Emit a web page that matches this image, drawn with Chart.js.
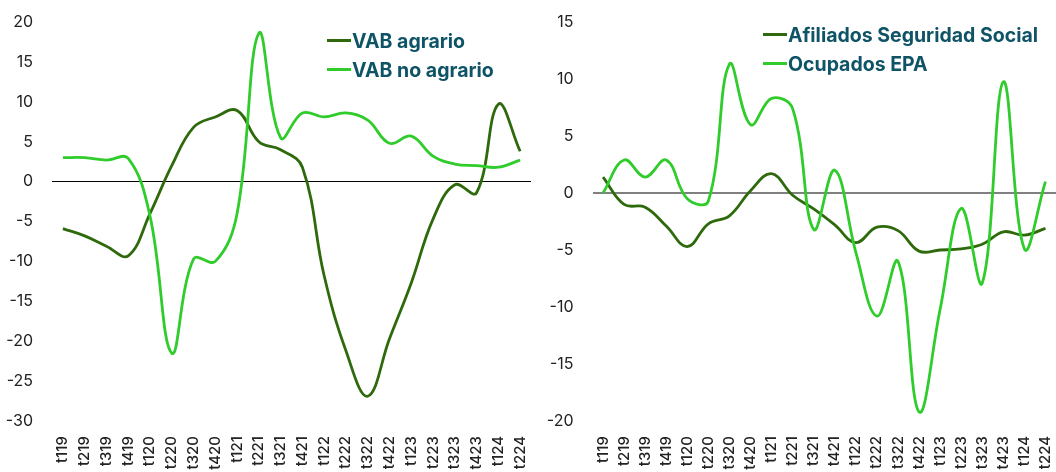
<!DOCTYPE html>
<html>
<head>
<meta charset="utf-8">
<script src="https://cdn.jsdelivr.net/npm/chart.js@4.4.0/dist/chart.umd.min.js"></script>
<style>
  body { margin: 0; background: #fff; width: 1056px; height: 472px; overflow: hidden; font-family: Inter, sans-serif; }
  canvas { position: absolute; top: 0; }
  #leftChart { left: 0; }
  #rightChart { left: 530px; }
  .legend { position: absolute; font-weight: 700; font-size: 19.5px; color: #0e5466; }
  .legend .item { display: flex; align-items: center; height: 29px; white-space: nowrap; }
  .legend .swatch { display: inline-block; width: 24px; height: 3px; margin-right: 1px; }
</style>
</head>
<body>
<canvas id="leftChart" width="531" height="472"></canvas>
<canvas id="rightChart" width="526" height="472"></canvas>
<div class="legend" id="leftLegend" style="left:327px; top:26px;"></div>
<div class="legend" id="rightLegend" style="left:763px; top:20px;"></div>
<script>
const quarters = ["t119", "t219", "t319", "t419", "t120", "t220", "t320", "t420", "t121", "t221", "t321",
  "t421", "t122", "t222", "t322", "t422", "t123", "t223", "t323", "t423", "t124", "t224"];

// left panel
const vabAgrario = [-5.9, -6.8, -8.1, -9.3, -4.0, 2.0, 6.8, 8.1, 8.9, 5.0, 4.0, 1.8,
  -11.8, -21.2, -26.9, -19.7, -12.7, -4.7, -0.4, -1.4, 9.7, 3.8];
const vabNoAgrario = [3.0, 3.0, 2.7, 2.9, -4.3, -21.5, -9.7, -10.0, -4.0, 18.6, 5.5, 8.6,
  8.1, 8.6, 7.7, 4.8, 5.7, 3.2, 2.2, 2.0, 1.8, 2.7];

// right panel
const afiliados = [1.4, -1.0, -1.25, -2.9, -4.7, -2.7, -2.0, 0.2, 1.7, -0.2, -1.4, -2.8,
  -4.35, -3.0, -3.3, -5.1, -5.0, -4.9, -4.5, -3.4, -3.7, -3.1];
const ocupados = [0.0, 2.9, 1.4, 2.9, -0.5, -0.7, 11.3, 6.0, 8.3, 7.4, -3.2, 2.0,
  -5.2, -10.8, -6.0, -19.2, -10.2, -1.35, -7.9, 9.75, -4.9, 1.0];

const leftTicks = { min: -30, max: 20, step: 5 };
const rightTicks = { min: -20, max: 15, step: 5 };

const darkGreen = "#2e6a0c";
const lightGreen = "#2fcc2c";

function makeChart(id, series, names, range, axisWidth, zeroColor, zeroWidth) {
  const datasets = series.map((values, i) => ({
    label: names[i],
    data: values,
    borderColor: i === 0 ? darkGreen : lightGreen,
    borderWidth: 2.8,
    pointRadius: 0,
    tension: 0.4,
    fill: false,
    order: i === 0 ? 2 : 1
  }));

  return new Chart(document.getElementById(id), {
    type: "line",
    data: { labels: quarters, datasets: datasets },
    options: {
      responsive: false,
      animation: false,
      layout: { padding: { top: 22, right: 0, left: 0, bottom: 0 } },
      plugins: { legend: { display: false }, tooltip: { enabled: false } },
      scales: {
        x: {
          offset: true,
          grid: { display: false, drawTicks: false },
          border: { display: false },
          afterFit: scale => {
            scale.height = 51;
            scale.paddingLeft = 0;
            scale.paddingRight = 0;
          },
          ticks: {
            autoSkip: false,
            maxRotation: 90,
            minRotation: 90,
            padding: 15,
            color: "#222",
            font: { family: "Inter", size: 15, weight: 500 }
          }
        },
        y: {
          min: range.min,
          max: range.max,
          afterFit: scale => {
            scale.width = axisWidth;
            scale.paddingTop = 0;
            scale.paddingBottom = 0;
          },
          border: { display: false },
          grid: {
            drawTicks: false,
            color: c => c.tick && c.tick.value === 0 ? zeroColor : "rgba(0,0,0,0)",
            lineWidth: c => c.tick && c.tick.value === 0 ? zeroWidth : 0
          },
          ticks: {
            stepSize: range.step,
            padding: 19,
            color: "#222",
            font: { family: "Inter", size: 16 }
          }
        }
      }
    }
  });
}

function buildLegend(chart, elId) {
  const box = document.getElementById(elId);
  chart.data.datasets.forEach(ds => {
    const item = document.createElement("div");
    item.className = "item";
    const sw = document.createElement("span");
    sw.className = "swatch";
    sw.style.background = ds.borderColor;
    item.appendChild(sw);
    item.appendChild(document.createTextNode(ds.label));
    box.appendChild(item);
  });
}

const leftChart = makeChart("leftChart", [vabAgrario, vabNoAgrario],
  ["VAB agrario", "VAB no agrario"], leftTicks, 52, "#000", 1);
const rightChart = makeChart("rightChart", [afiliados, ocupados],
  ["Afiliados Seguridad Social", "Ocupados EPA"], rightTicks, 62.5, "#808080", 2);

buildLegend(leftChart, "leftLegend");
buildLegend(rightChart, "rightLegend");
</script>
</body>
</html>
